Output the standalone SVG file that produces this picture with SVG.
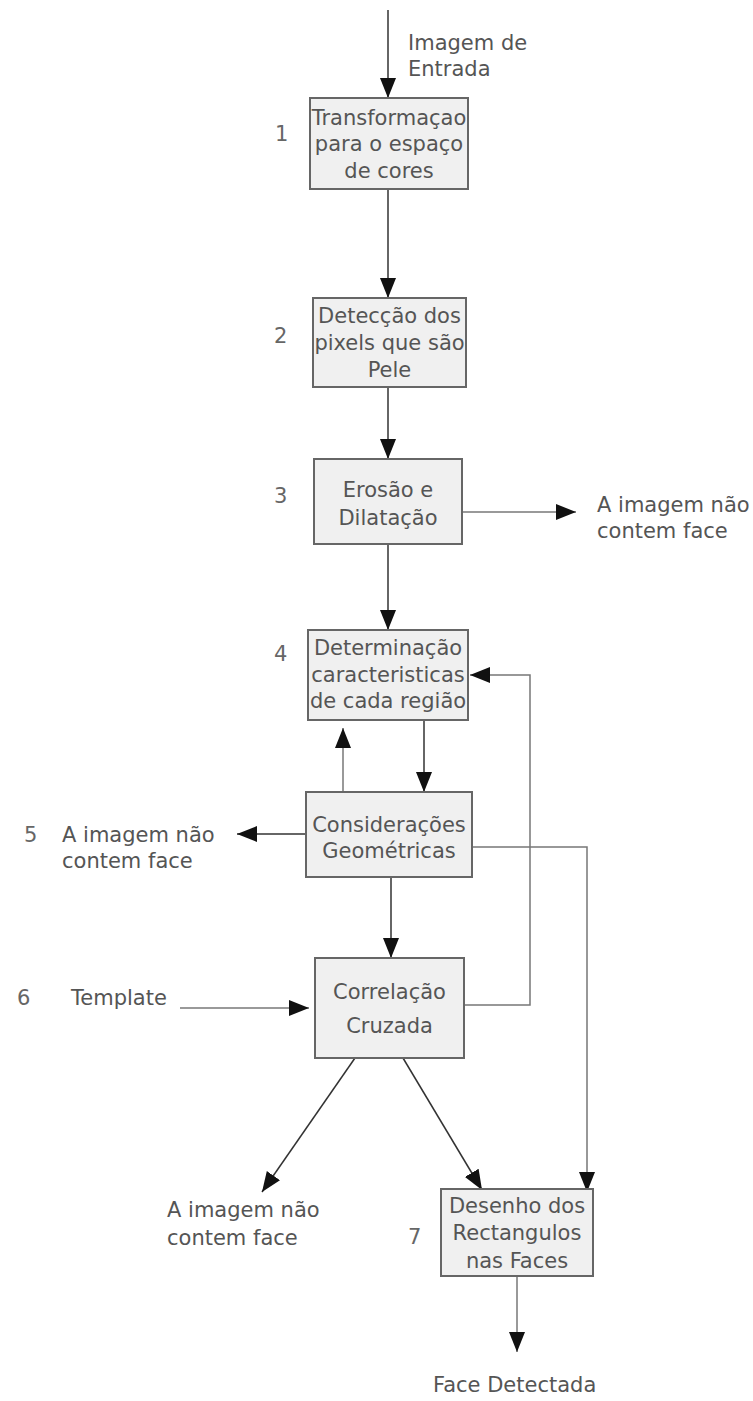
<svg xmlns="http://www.w3.org/2000/svg" width="753" height="1401" viewBox="0 0 753 1401">
<style>
.box{fill:#f0f0f0;stroke:#666;stroke-width:2}
.t{font-family:"DejaVu Sans",Verdana,sans-serif;font-size:21px;fill:#555}
.c{text-anchor:middle}
.n{font-family:"DejaVu Sans",Verdana,sans-serif;font-size:21px;fill:#666}
.ln{fill:none;stroke:#333;stroke-width:1.5}
.g{stroke:#777}
</style>
<defs>
<marker id="ah" markerUnits="userSpaceOnUse" markerWidth="20" markerHeight="16" refX="20" refY="8" orient="auto">
<path d="M0,0 L20,8 L0,16 z" fill="#111"/>
</marker>
</defs>
<rect width="753" height="1401" fill="#fff"/>
<g id="connectors">
<line class="ln" x1="388" y1="10" x2="388" y2="98" marker-end="url(#ah)"/>
<line class="ln" x1="388" y1="189" x2="388" y2="298" marker-end="url(#ah)"/>
<line class="ln" x1="388" y1="387" x2="388" y2="459" marker-end="url(#ah)"/>
<line class="ln g" x1="462" y1="512" x2="576" y2="512" marker-end="url(#ah)"/>
<line class="ln" x1="388" y1="544" x2="388" y2="630" marker-end="url(#ah)"/>
<polyline class="ln g" points="464,1005 530,1005 530,675 470,675" marker-end="url(#ah)"/>
<line class="ln g" x1="343" y1="792" x2="343" y2="728" marker-end="url(#ah)"/>
<line class="ln" x1="424" y1="720" x2="424" y2="792" marker-end="url(#ah)"/>
<line class="ln" x1="306" y1="834" x2="237" y2="834" marker-end="url(#ah)"/>
<polyline class="ln g" points="472,847 587,847 587,1192" marker-end="url(#ah)"/>
<line class="ln" x1="391" y1="877" x2="391" y2="958" marker-end="url(#ah)"/>
<line class="ln g" x1="180" y1="1008" x2="309" y2="1008" marker-end="url(#ah)"/>
<line class="ln" x1="355" y1="1058" x2="262" y2="1192" marker-end="url(#ah)"/>
<line class="ln" x1="403" y1="1058" x2="482" y2="1190" marker-end="url(#ah)"/>
<line class="ln g" x1="517" y1="1276" x2="517" y2="1352" marker-end="url(#ah)"/>
</g>
<g id="input">
<text class="t" x="408" y="50">Imagem de</text>
<text class="t" x="408" y="76">Entrada</text>
</g>
<g id="node1">
<rect class="box" x="310" y="98" width="158" height="91"/>
<text class="n" x="275" y="141">1</text>
<text class="t c" x="389" y="125">Transformaçao</text>
<text class="t c" x="389" y="151">para o espaço</text>
<text class="t c" x="389" y="178">de cores</text>
</g>
<g id="node2">
<rect class="box" x="313" y="298" width="153" height="89"/>
<text class="n" x="274" y="343">2</text>
<text class="t c" x="389.5" y="323">Detecção dos</text>
<text class="t c" x="389.5" y="350">pixels que são</text>
<text class="t c" x="389.5" y="377">Pele</text>
</g>
<g id="node3">
<rect class="box" x="314" y="459" width="148" height="85"/>
<text class="n" x="274" y="503">3</text>
<text class="t c" x="388" y="497">Erosão e</text>
<text class="t c" x="388" y="525">Dilatação</text>
</g>
<g id="out3">
<text class="t" x="597" y="512">A imagem não</text>
<text class="t" x="597" y="538">contem face</text>
</g>
<g id="node4">
<rect class="box" x="308" y="630" width="160" height="90"/>
<text class="n" x="274" y="661">4</text>
<text class="t c" x="388" y="655">Determinação</text>
<text class="t c" x="388" y="682">caracteristicas</text>
<text class="t c" x="388" y="708">de cada região</text>
</g>
<g id="node5">
<rect class="box" x="306" y="792" width="166" height="85"/>
<text class="t c" x="389" y="832">Considerações</text>
<text class="t c" x="389" y="858">Geométricas</text>
</g>
<g id="out5">
<text class="n" x="24" y="842">5</text>
<text class="t" x="62" y="842">A imagem não</text>
<text class="t" x="62" y="868">contem face</text>
</g>
<g id="template">
<text class="n" x="17" y="1005">6</text>
<text class="t" x="71" y="1005">Template</text>
</g>
<g id="node6">
<rect class="box" x="315" y="958" width="149" height="100"/>
<text class="t c" x="389.5" y="999">Correlação</text>
<text class="t c" x="389.5" y="1033">Cruzada</text>
</g>
<g id="out6">
<text class="t" x="167" y="1217">A imagem não</text>
<text class="t" x="167" y="1245">contem face</text>
</g>
<g id="node7">
<rect class="box" x="441" y="1189" width="152" height="87"/>
<text class="n" x="408" y="1244">7</text>
<text class="t c" x="517" y="1213">Desenho dos</text>
<text class="t c" x="517" y="1240">Rectangulos</text>
<text class="t c" x="517" y="1268">nas Faces</text>
</g>
<g id="output">
<text class="t" x="433" y="1392">Face Detectada</text>
</g>
</svg>
